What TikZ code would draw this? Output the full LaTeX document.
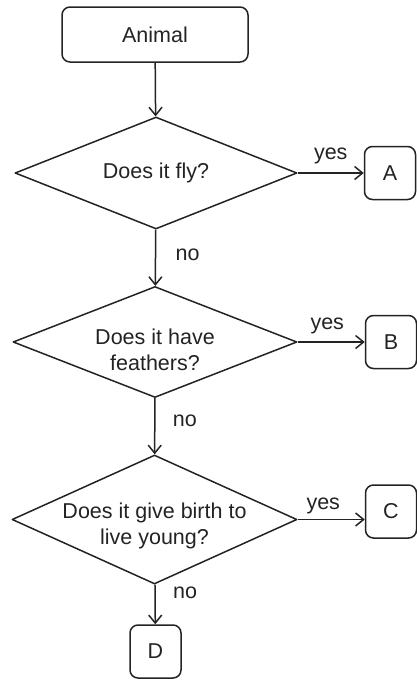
\documentclass[tikz,border=0pt]{standalone}
\usepackage{fontspec}
\setmainfont{Liberation Sans}
\usetikzlibrary{shapes.geometric,arrows.meta}
\definecolor{ink}{HTML}{232323}
\tikzset{
  base/.style={draw=ink, line width=1.5pt, line join=round},
  txt/.style={text=ink, font=\fontsize{21.5}{26}\selectfont},
  box/.style={base, txt, rounded corners=8pt, inner sep=0pt},
  letter/.style={box, minimum width=51pt, minimum height=53pt},
  ask/.style={base, diamond, inner sep=0pt},
  lab/.style={txt, align=center},
  flow/.style={base, -{Straight Barb[length=8pt,width=13pt]}},
}
\begin{document}
\begin{tikzpicture}[x=1pt,y=-1pt]
  \useasboundingbox (0,0) rectangle (416,680);
  \node[box,minimum width=186pt,minimum height=55pt] (animal) at (155,34.5) {Animal};
  \node[ask,minimum width=282pt,minimum height=112pt,label={[lab]center:Does it fly?}] (fly) at (156,173) {};
  \node[ask,minimum width=284pt,minimum height=111pt,label={[lab,yshift=-8pt]center:{Does it have\\feathers?}}] (feathers) at (155,342) {};
  \node[ask,minimum width=285pt,minimum height=129pt,label={[lab,yshift=-6pt]center:{Does it give birth to\\live young?}}] (young) at (154.5,519.5) {};
  \node[letter] (a) at (390,173) {A};
  \node[letter] (b) at (391,342) {B};
  \node[letter] (c) at (391,511.5) {C};
  \node[letter] (d) at (155.5,651.5) {D};
  \draw[flow] (animal) -- (fly);
  \draw[flow] (fly) -- node[txt,above=5pt] {yes} (a);
  \draw[flow] (fly) -- node[txt,right=16pt,pos=0.44] {no} (feathers);
  \draw[flow] (feathers) -- node[txt,above=4pt,xshift=-4pt] {yes} (b);
  \draw[flow] (feathers) -- node[txt,right=14pt,pos=0.4] {no} (young);
  \draw[flow] (young.east) -- node[txt,above=1pt,xshift=-8pt] {yes} (young.east -| c.west);
  \draw[flow] (young) -- node[txt,right=14pt,pos=0.2] {no} (d);
\end{tikzpicture}
\end{document}
